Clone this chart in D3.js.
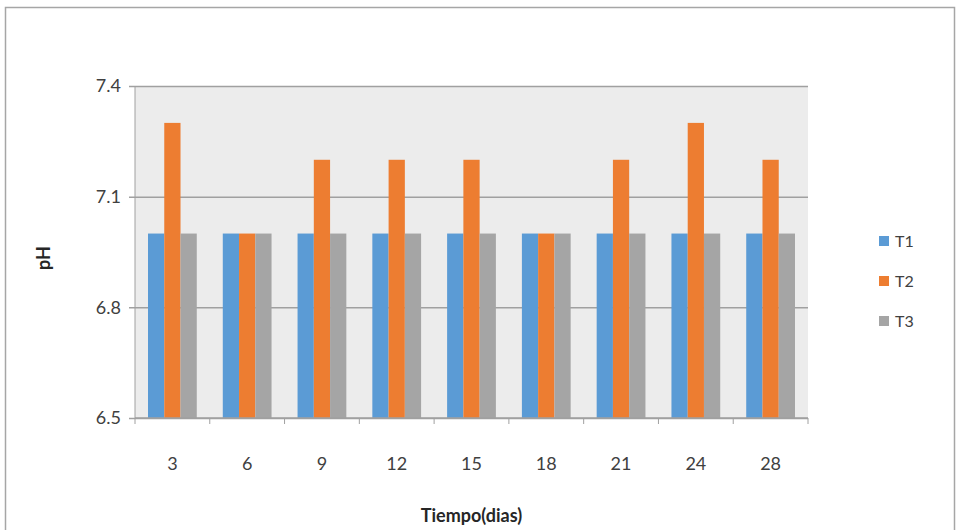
<!DOCTYPE html>
<head>
   <meta charset="utf-8">
   <script src="https://d3js.org/d3.v7.min.js"></script>
   <style>
   body{ margin: 0; background: #fff; }
   text{
      font-family: Lato, "Open Sans", sans-serif;
      fill: #404040;
   }
   text.tickLabel{ font-size: 18px; }
   text.axisTitle{ font-size: 18px; font-weight: 700; fill: #262626; }
   text.legendLabel{ font-size: 16px; }
   </style>
</head>
<body>
<script>
// values
const dias = ['3', '6', '9', '12', '15', '18', '21', '24', '28'];
const series = ['T1', 'T2', 'T3'];
const t1 = [7.0, 7.0, 7.0, 7.0, 7.0, 7.0, 7.0, 7.0, 7.0];
const t2 = [7.3, 7.0, 7.2, 7.2, 7.2, 7.0, 7.2, 7.3, 7.2];
const t3 = [7.0, 7.0, 7.0, 7.0, 7.0, 7.0, 7.0, 7.0, 7.0];
const yTicks = [6.5, 6.8, 7.1, 7.4];
const colours = ['#5b9bd5', '#ed7d31', '#a5a5a5'];

const width = 958, height = 530;
const margin = {top: 86, right: 150, bottom: 112, left: 135};

const svg = d3.select('body').append('svg')
   .attr('width', width)
   .attr('height', height);

// outer frame
svg.append('rect')
   .attr('x', 5.5).attr('y', 7.5)
   .attr('width', 949).attr('height', 530)
   .attr('fill', '#fff')
   .attr('stroke', '#a6a6a6')
   .attr('stroke-width', 1.5);

const x = d3.scaleBand()
   .domain(dias)
   .range([margin.left, width - margin.right]);

const xInner = d3.scaleBand()
   .domain(series)
   .range([0, x.bandwidth()])
   .paddingOuter(0.8);

const y = d3.scaleLinear()
   .domain([6.5, 7.4])
   .range([height - margin.bottom, margin.top]);

// plot background
svg.append('rect')
   .attr('x', x.range()[0])
   .attr('y', y(7.4))
   .attr('width', x.range()[1] - x.range()[0])
   .attr('height', y(6.5) - y(7.4))
   .attr('fill', '#ececec');

// y grid + ticks
const yAxis = d3.axisLeft(y)
   .tickValues(yTicks)
   .tickSize(-(x.range()[1] - x.range()[0]))
   .tickPadding(14)
   .tickFormat(d3.format('.1f'));

const gy = svg.append('g')
   .attr('transform', `translate(${margin.left},0)`)
   .call(yAxis);
gy.select('.domain').remove();
gy.selectAll('.tick line')
   .attr('x1', -6)
   .attr('stroke', '#a0a0a0')
   .attr('stroke-width', 1.5);
gy.selectAll('.tick text')
   .attr('class', 'tickLabel')
   .attr('font-family', null).attr('font-size', null);

const data = dias.map((d, i) => ({dia: d, values: [t1[i], t2[i], t3[i]]}));

svg.append('g').selectAll('g')
   .data(data)
   .join('g')
   .attr('transform', d => `translate(${x(d.dia)},0)`)
   .selectAll('rect')
   .data(d => d.values.map((v, j) => ({s: series[j], v: v, c: colours[j]})))
   .join('rect')
   .attr('x', d => xInner(d.s))
   .attr('width', xInner.bandwidth())
   .attr('y', d => y(d.v))
   .attr('height', d => y(6.5) - y(d.v))
   .attr('fill', d => d.c);

// left axis line
svg.append('line')
   .attr('x1', margin.left).attr('x2', margin.left)
   .attr('y1', y(7.4)).attr('y2', y(6.5))
   .attr('stroke', '#a0a0a0');

// x axis with ticks on category edges
const gx = svg.append('g')
   .attr('transform', `translate(0,${y(6.5)})`);
gx.append('line')
   .attr('x1', x.range()[0]).attr('x2', x.range()[1])
   .attr('stroke', '#a0a0a0').attr('stroke-width', 1.5);
gx.selectAll('line.edge')
   .data(dias.map(d => x(d)).concat([x.range()[1]]))
   .join('line')
   .attr('class', 'edge')
   .attr('x1', d => d).attr('x2', d => d)
   .attr('y1', 0).attr('y2', 6)
   .attr('stroke', '#a0a0a0');
gx.selectAll('text')
   .data(dias)
   .join('text')
   .attr('class', 'tickLabel')
   .attr('x', d => x(d) + x.bandwidth() / 2)
   .attr('y', 52)
   .attr('text-anchor', 'middle')
   .text(d => d);

// axis titles
svg.append('text')
   .attr('class', 'axisTitle')
   .attr('transform', 'translate(50,258) rotate(-90)')
   .attr('text-anchor', 'middle')
   .text('pH');

svg.append('text')
   .attr('class', 'axisTitle')
   .attr('x', (x.range()[0] + x.range()[1]) / 2)
   .attr('y', 522)
   .attr('text-anchor', 'middle')
   .text('Tiempo(dias)');

// legend
const legend = svg.append('g').selectAll('g')
   .data(series)
   .join('g')
   .attr('transform', (d, i) => `translate(879,${241 + i * 40})`);
legend.append('rect')
   .attr('x', 0).attr('y', -5)
   .attr('width', 10).attr('height', 10)
   .attr('fill', (d, i) => colours[i]);
legend.append('text')
   .attr('class', 'legendLabel')
   .attr('x', 16).attr('y', 6)
   .text(d => d);
</script>
</body>
